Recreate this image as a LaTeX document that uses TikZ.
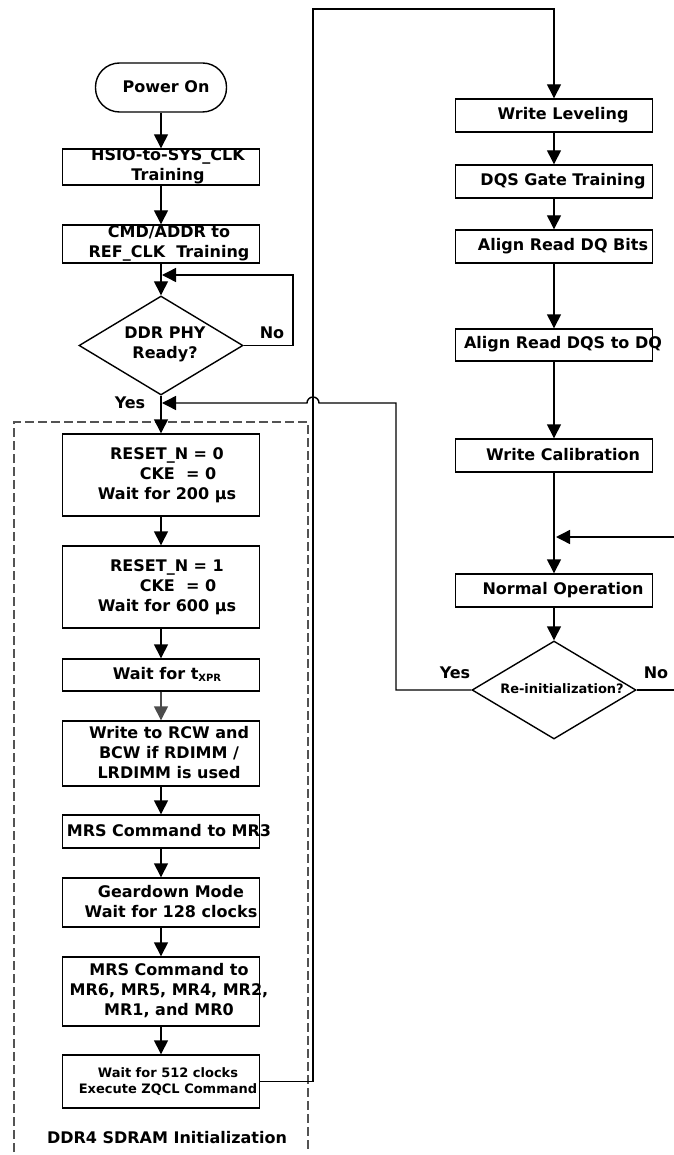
\documentclass[tikz,border=0pt]{standalone}
\usepackage{fontspec}
\setmainfont{DejaVu Sans}
\usetikzlibrary{shapes.geometric,arrows.meta}
\begin{document}
\begin{tikzpicture}[x=1pt,y=-1pt,
  box/.style={draw, line width=1.4pt, minimum width=197pt, inner sep=0pt},
  txt/.style={font=\bfseries\fontsize{16}{20}\selectfont, align=center, inner sep=0pt},
  smalltxt/.style={font=\bfseries\fontsize{13}{16}\selectfont, align=center, inner sep=0pt},
  arr/.style={-{Triangle[length=14pt,width=14pt]}, line width=1.4pt},
  ln/.style={line width=1.4pt},
  dec/.style={draw, diamond, line width=1.4pt, inner sep=0pt, minimum width=164pt, minimum height=99pt},
  frame/.style={draw=gray!65!black, line width=1.3pt, dash pattern=on 9pt off 4pt}
]
\useasboundingbox (0,0) rectangle (673,1155);

% dashed frame
\draw[frame] (14,1152) -- (14,422) -- (308,422) -- (308,1152);

% left column
\node[draw, line width=1.4pt, rounded corners=24pt, minimum width=131pt, minimum height=49pt, inner sep=0pt] (pon) at (161,87.5) {};
\node[txt] (pont) at (166,87) {Power On};
\node[box, minimum height=36pt] (hsio) at (161,167) {};
\node[txt] (hsiot) at (168,166) {HSIO-to-SYS\_CLK\\Training};
\node[box, minimum height=38pt] (cmd) at (161,244) {};
\node[txt] (cmdt) at (169,243) {CMD/ADDR to\\REF\_CLK\ \ Training};
\node[dec] (phy) at (161,345.5) {};
\node[txt] (phyt) at (165,344) {DDR PHY\\Ready?};
\node[box, minimum height=82pt] (rst0) at (161,475) {};
\node[txt] (rst0t) at (167,475) {RESET\_N = 0\\\hspace*{22pt}CKE\ \ = 0\\Wait for 200 µs};
\node[box, minimum height=82pt] (rst1) at (161,587) {};
\node[txt] (rst1t) at (167,587) {RESET\_N = 1\\\hspace*{22pt}CKE\ \ = 0\\Wait for 600 µs};
\node[box, minimum height=32pt] (txpr) at (161,675) {};
\node[txt] (txprt) at (167,674) {Wait for t\raisebox{-2pt}{\fontsize{10}{10}\selectfont XPR}};
\node[box, minimum height=65pt] (rcw) at (161,753.5) {};
\node[txt] (rcwt) at (169,753) {Write to RCW and\\BCW if RDIMM /\\LRDIMM is used};
\node[box, minimum height=33pt] (mr3) at (161,831.5) {};
\node[txt] (mr3t) at (169,831) {MRS Command to MR3};
\node[box, minimum height=49pt] (gd) at (161,902.5) {};
\node[txt] (gdt) at (171,902) {Geardown Mode\\Wait for 128 clocks};
\node[box, minimum height=69pt] (mr6) at (161,991.5) {};
\node[txt] (mr6t) at (169,991) {MRS Command to\\MR6, MR5, MR4, MR2,\\MR1, and MR0};
\node[box, minimum height=53pt] (zq) at (161,1081.5) {};
\node[smalltxt] (zqt) at (168,1081) {Wait for 512 clocks\\Execute ZQCL Command};
\node[txt] (ddr4) at (167,1138) {DDR4 SDRAM Initialization};

% right column
\node[box, minimum height=33pt] (wl) at (554,115.5) {};
\node[txt] (wlt) at (563,115) {Write Leveling};
\node[box, minimum height=33pt] (dqs) at (554,181.5) {};
\node[txt] (dqst) at (563,181) {DQS Gate Training};
\node[box, minimum height=33pt] (dqb) at (554,246.5) {};
\node[txt] (dqbt) at (563,246) {Align Read DQ Bits};
\node[box, minimum height=32pt] (dqsdq) at (554,345) {};
\node[txt] (dqsdqt) at (563,344) {Align Read DQS to DQ};
\node[box, minimum height=33pt] (wc) at (554,455.5) {};
\node[txt] (wct) at (563,455) {Write Calibration};
\node[box, minimum height=33pt] (nop) at (554,590.5) {};
\node[txt] (nopt) at (563,590) {Normal Operation};
\node[dec, minimum height=98pt] (ri) at (554,690) {};
\node[smalltxt] (rit) at (562,689) {Re-initialization?};

% labels
\node[txt] (nol) at (272,333) {No};
\node[txt] (yesl) at (130,403) {Yes};
\node[txt] (yesr) at (455,673) {Yes};
\node[txt] (nor) at (656,673) {No};

% coordinates
\coordinate (noT) at (293,275);
\coordinate (loopEnd) at (162,275);
\coordinate (c1) at (313,1081.5);
\coordinate (c2) at (313,9);
\coordinate (c3) at (554,9);
\coordinate (m) at (674,537);
\coordinate (mEnd) at (556,537);
\coordinate (noEnd) at (674,690);
\coordinate (y1) at (396,690);
\coordinate (y2) at (396,403);
\coordinate (y3) at (319,403);
\coordinate (yEnd) at (162,403);

% connectors
\draw[arr] (pon) -- (hsio);
\draw[arr] (hsio) -- (cmd);
\draw[arr] (cmd) -- (phy);
\draw[arr] (phy.east) -| (noT) -- (loopEnd);
\draw[arr] (phy) -- (rst0);
\draw[arr] (rst0) -- (rst1);
\draw[arr] (rst1) -- (txpr);
\draw[arr, draw=black!70, fill=black!70] (txpr) -- (rcw);
\draw[arr] (rcw) -- (mr3);
\draw[arr] (mr3) -- (gd);
\draw[arr] (gd) -- (mr6);
\draw[arr] (mr6) -- (zq);
\draw[arr] (zq.east) -- (c1) -- (c2) -- (c3) -- (wl);
\draw[arr] (wl) -- (dqs);
\draw[arr] (dqs) -- (dqb);
\draw[arr] (dqb) -- (dqsdq);
\draw[arr] (dqsdq) -- (wc);
\draw[arr] (wc) -- (nop);
\draw[arr] (m) -- (mEnd);
\draw[arr] (nop) -- (ri);
\draw[ln] (ri.east) -- (noEnd);
\draw[arr] (ri.west) -- (y1) -- (y2) -- (y3) arc[start angle=0, end angle=180, radius=6pt] -- (yEnd);
\end{tikzpicture}
\end{document}
